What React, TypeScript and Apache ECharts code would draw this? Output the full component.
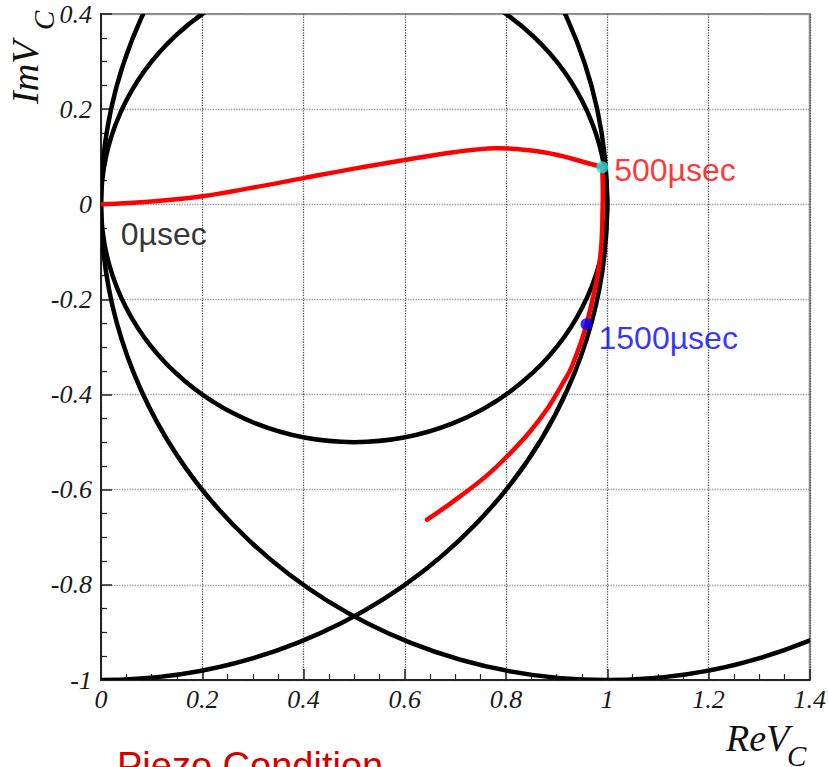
import React, { useEffect, useRef } from "react";
import * as echarts from "echarts";

// Reference circles (centre x, centre y, radius) in data units
const circleCx = [0.5, 0, 1];
const circleCy = [0, 0, 0];
const circleR = [0.5, 1, 1];

// Trajectory of V_C (red curve); index `cornerIndex` is the 500µsec turning point
const trajRe = [0, 0.1, 0.2, 0.3, 0.4, 0.5, 0.6, 0.7, 0.78, 0.85, 0.9, 0.95, 0.99, 0.991, 0.985, 0.959, 0.93, 0.91, 0.884, 0.848, 0.802, 0.759, 0.694, 0.644];
const trajIm = [0, 0.006, 0.017, 0.035, 0.055, 0.075, 0.093, 0.11, 0.118, 0.113, 0.104, 0.09, 0.078, 0.0, -0.12, -0.252, -0.341, -0.38, -0.426, -0.477, -0.53, -0.573, -0.626, -0.663];
const cornerIndex = 12;

// Time markers
const markerLabels = ["500µsec", "1500µsec"];
const markerRe = [0.99, 0.959];
const markerIm = [0.078, -0.252];
const markerColors = ["#1ee6e6", "#0000ff"];
const markerTextColors = ["#ff0000", "#0000ff"];

const startLabel = "0µsec";
const startLabelPos = [0.039, -0.063];

const xMin = 0, xMax = 1.4, xStep = 0.2;
const yMin = -1, yMax = 0.4, yStep = 0.2;

const serif = "'Liberation Serif', 'Times New Roman', serif";
const sans = "'Liberation Sans', Arial, sans-serif";

export default function App() {
  const ref = useRef<HTMLDivElement>(null);
  useEffect(() => {
    if (!ref.current) return;
    const chart = echarts.init(ref.current, undefined, { renderer: "svg" });
    const axisLabel = {
      fontFamily: serif,
      fontStyle: "italic",
      fontSize: 26,
      color: "#1a1a1a",
    };
    const pts = trajRe.map((x, i) => [x, trajIm[i]]);
    const segments = [
      [0, cornerIndex],
      [cornerIndex, pts.length - 1],
    ];
    const option: any = {
      animation: false,
      backgroundColor: "#fff",
      grid: {
        left: 101,
        top: 14,
        right: 17,
        bottom: 87,
        show: true,
        borderColor: "#888",
        borderWidth: 2,
        backgroundColor: "transparent",
      },
      xAxis: {
        type: "value",
        min: xMin,
        max: xMax,
        interval: xStep,
        axisLine: { show: true, onZero: false, lineStyle: { color: "#222", width: 2 } },
        axisTick: { show: true, inside: true, length: 11, lineStyle: { color: "#222", width: 1.5 } },
        minorTick: { show: true, splitNumber: 4, length: 6, lineStyle: { color: "#222", width: 1.2 } },
        splitLine: { show: true, lineStyle: { color: "#555", type: "dotted", width: 1.3 } },
        axisLabel: { ...axisLabel, margin: 6 },
      },
      yAxis: {
        type: "value",
        min: yMin,
        max: yMax,
        interval: yStep,
        axisLine: { show: true, onZero: false, lineStyle: { color: "#222", width: 2 } },
        axisTick: { show: true, inside: true, length: 11, lineStyle: { color: "#222", width: 1.5 } },
        minorTick: { show: true, splitNumber: 4, length: 6, lineStyle: { color: "#222", width: 1.2 } },
        splitLine: { show: true, lineStyle: { color: "#999", type: "dotted", width: 1.3 } },
        axisLabel: { ...axisLabel, margin: 9 },
      },
      series: [
        {
          type: "custom",
          clip: true,
          data: circleCx.map((cx, i) => [cx, circleCy[i], circleR[i]]),
          encode: { x: 0, y: 1 },
          renderItem: (params: any, api: any) => {
            const c = api.coord([api.value(0), api.value(1)]);
            const r = api.value(2);
            const s = api.size([r, r]);
            return {
              type: "ellipse",
              shape: { cx: c[0], cy: c[1], rx: s[0], ry: s[1] },
              style: { fill: "none", stroke: "#000", lineWidth: 4.5 },
            };
          },
          silent: true,
          z: 2,
        },
        {
          type: "custom",
          clip: true,
          data: pts,
          encode: { x: 0, y: 1 },
          renderItem: (params: any, api: any) => {
            const seg = segments.find((s) => s[0] === params.dataIndex);
            if (!seg) return null;
            const points = pts.slice(seg[0], seg[1] + 1).map((p) => api.coord(p));
            return {
              type: "polyline",
              shape: { points, smooth: 0.4 },
              style: { fill: "none", stroke: "#ff0000", lineWidth: 4.5, lineCap: "round", lineJoin: "round" },
            };
          },
          silent: true,
          z: 3,
        },
        {
          type: "scatter",
          data: markerRe.map((x, i) => ({
            value: [x, markerIm[i]],
            itemStyle: { color: markerColors[i] },
            label: {
              show: true,
              position: "right",
              distance: 6,
              offset: i === 1 ? [0, 14] : [0, 3],
              formatter: markerLabels[i],
              color: markerTextColors[i],
              fontFamily: sans,
              fontSize: 32,
            },
          })),
          symbolSize: 12,
          z: 4,
        },
        {
          type: "scatter",
          data: [
            {
              value: startLabelPos,
              label: {
                show: true,
                position: "right",
                distance: 0,
                formatter: startLabel,
                color: "#000",
                fontFamily: sans,
                fontSize: 32,
              },
            },
          ],
          symbolSize: 0,
          itemStyle: { color: "transparent" },
          z: 4,
        },
      ],
      graphic: [
        {
          type: "text",
          x: 25,
          y: 104,
          rotation: Math.PI / 2,
          style: {
            text: "ImV",
            font: `italic 38px ${serif}`,
            fill: "#111",
            align: "left",
            verticalAlign: "middle",
            textAlign: "left",
            textVerticalAlign: "middle",
          },
        },
        {
          type: "text",
          x: 44,
          y: 30,
          rotation: Math.PI / 2,
          style: {
            text: "C",
            font: `italic 29px ${serif}`,
            fill: "#111",
            align: "left",
            verticalAlign: "middle",
            textAlign: "left",
            textVerticalAlign: "middle",
          },
        },
        {
          type: "text",
          x: 726,
          y: 738,
          style: {
            text: "ReV",
            font: `italic 38px ${serif}`,
            fill: "#111",
            align: "left",
            verticalAlign: "middle",
            textAlign: "left",
            textVerticalAlign: "middle",
          },
        },
        {
          type: "text",
          x: 787,
          y: 756,
          style: {
            text: "C",
            font: `italic 29px ${serif}`,
            fill: "#111",
            align: "left",
            verticalAlign: "middle",
            textAlign: "left",
            textVerticalAlign: "middle",
          },
        },
        {
          type: "text",
          x: 117,
          y: 766,
          style: {
            text: "Piezo Condition",
            font: `38px ${sans}`,
            fill: "#d40000",
            align: "left",
            verticalAlign: "middle",
            textAlign: "left",
            textVerticalAlign: "middle",
          },
        },
      ],
    };
    chart.setOption(option);
    return () => chart.dispose();
  }, []);
  return (
    <div
      ref={ref}
      style={{ position: "fixed", left: 0, top: 0, width: 829, height: 767 }}
    />
  );
}
